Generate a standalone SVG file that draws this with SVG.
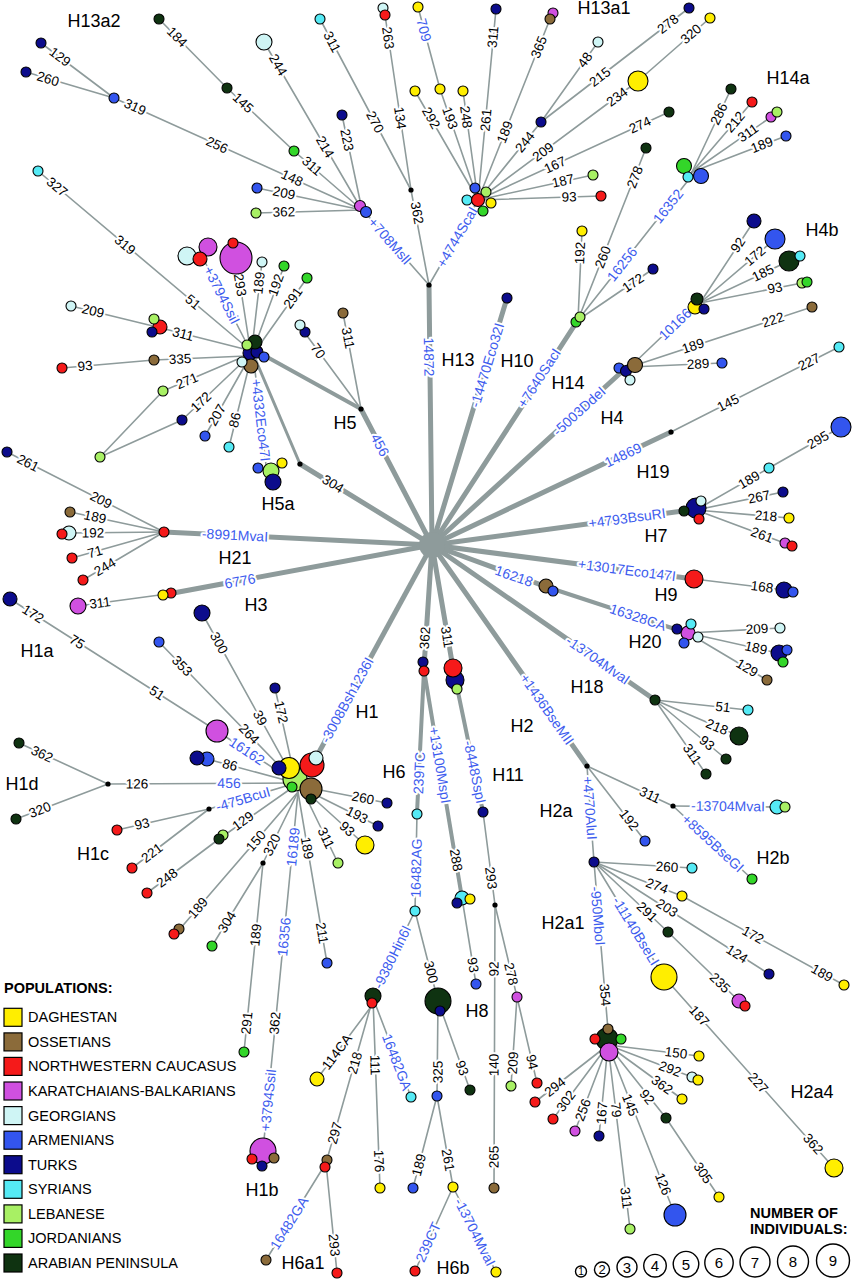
<svg xmlns="http://www.w3.org/2000/svg" width="853" height="1280" viewBox="0 0 853 1280">
<style>
circle{stroke:#000;stroke-width:1.1}
.hub{fill:#8e9b9b;stroke:none}
.dot{fill:#000;stroke:none}
.dg{fill:#ffee00}.os{fill:#8b6b3a}.nw{fill:#f51a1a}.kb{fill:#d050e0}.ge{fill:#cff5f5}.ar{fill:#3355ee}.tu{fill:#0c0c8c}.sy{fill:#55eaf5}.le{fill:#a8f064}.jo{fill:#33d629}.ap{fill:#0f3311}
.lb{stroke:#000;stroke-width:1.2}
text{font-family:"Liberation Sans",Arial,sans-serif}
.n,.b{text-anchor:middle;dominant-baseline:central;paint-order:stroke;stroke:#fff;stroke-width:4px;stroke-linejoin:round}
.n{font-size:13.5px;fill:#000}
.b{font-size:14px;fill:#3d5cee}
.h{font-size:18px;fill:#000;text-anchor:middle}
.lg{font-size:14.5px;fill:#000}
.lgb{font-size:14.5px;font-weight:bold;fill:#000}
.sz{fill:#fff;stroke:#000;stroke-width:1.4}
.szt{text-anchor:middle;dominant-baseline:central;fill:#000}
</style>
<rect width="853" height="1280" fill="#fff"/>
<g id="connectors" stroke="#8e9b9b" stroke-linecap="round" fill="none">
<g stroke-width="5">
<line x1="432" y1="545" x2="429" y2="285"/>
<line x1="432" y1="545" x2="507" y2="298"/>
<line x1="432" y1="545" x2="578" y2="320"/>
<line x1="432" y1="545" x2="627" y2="367"/>
<line x1="432" y1="545" x2="671" y2="432"/>
<line x1="432" y1="545" x2="690" y2="510"/>
<line x1="432" y1="545" x2="694" y2="579"/>
<line x1="432" y1="545" x2="547" y2="587"/>
<line x1="432" y1="545" x2="655" y2="700"/>
<line x1="432" y1="545" x2="587" y2="766"/>
<line x1="432" y1="545" x2="453" y2="668"/>
<line x1="432" y1="545" x2="424" y2="667"/>
<line x1="432" y1="545" x2="312" y2="765"/>
<line x1="432" y1="545" x2="168" y2="594"/>
<line x1="432" y1="545" x2="164" y2="532"/>
<line x1="432" y1="545" x2="300" y2="464"/>
<line x1="432" y1="545" x2="361" y2="409"/>
</g>
<g stroke-width="4">
<line x1="547" y1="587" x2="687" y2="633"/>
<line x1="453" y1="668" x2="483" y2="812"/>
<line x1="424" y1="670" x2="417" y2="813"/>
<line x1="424" y1="670" x2="462" y2="898"/>
<line x1="361" y1="409" x2="258" y2="352"/>
</g>
<g stroke-width="3"><line x1="300" y1="464" x2="254" y2="356"/></g>
<g stroke-width="1.6">
<line x1="429" y1="285" x2="411" y2="190"/>
<line x1="411" y1="190" x2="385" y2="15"/>
<line x1="411" y1="190" x2="320" y2="19"/>
<line x1="429" y1="285" x2="362" y2="209"/>
<line x1="429" y1="285" x2="477" y2="202"/>
<line x1="362" y1="210" x2="342" y2="115"/>
<line x1="362" y1="210" x2="264" y2="42"/>
<line x1="362" y1="210" x2="294" y2="151"/>
<line x1="294" y1="151" x2="227" y2="88"/>
<line x1="227" y1="88" x2="159" y2="19"/>
<line x1="362" y1="210" x2="114" y2="98"/>
<line x1="114" y1="98" x2="41" y2="43"/>
<line x1="114" y1="98" x2="26" y2="72"/>
<line x1="362" y1="210" x2="257" y2="188"/>
<line x1="362" y1="210" x2="256" y2="213"/>
<line x1="478" y1="200" x2="415" y2="91"/>
<line x1="478" y1="200" x2="440" y2="89"/>
<line x1="440" y1="89" x2="418" y2="7"/>
<line x1="478" y1="200" x2="463" y2="91"/>
<line x1="478" y1="200" x2="496" y2="9"/>
<line x1="478" y1="200" x2="550" y2="19"/>
<line x1="478" y1="200" x2="541" y2="122"/>
<line x1="541" y1="122" x2="598" y2="42"/>
<line x1="541" y1="122" x2="689" y2="8"/>
<line x1="478" y1="200" x2="638" y2="81"/>
<line x1="638" y1="81" x2="710" y2="18"/>
<line x1="478" y1="200" x2="669" y2="112"/>
<line x1="478" y1="200" x2="593" y2="175"/>
<line x1="478" y1="200" x2="601" y2="196"/>
<line x1="578" y1="320" x2="582" y2="231"/>
<line x1="578" y1="320" x2="646" y2="148"/>
<line x1="578" y1="320" x2="690" y2="178"/>
<line x1="578" y1="320" x2="653" y2="269"/>
<line x1="692" y1="172" x2="731" y2="89"/>
<line x1="692" y1="172" x2="752" y2="102"/>
<line x1="692" y1="172" x2="771" y2="117"/>
<line x1="692" y1="172" x2="786" y2="136"/>
<line x1="630" y1="367" x2="697" y2="303"/>
<line x1="630" y1="367" x2="812" y2="307"/>
<line x1="630" y1="367" x2="722" y2="363"/>
<line x1="700" y1="303" x2="754" y2="221"/>
<line x1="700" y1="303" x2="775" y2="239"/>
<line x1="700" y1="303" x2="789" y2="261"/>
<line x1="700" y1="303" x2="802" y2="283"/>
<line x1="671" y1="432" x2="839" y2="347"/>
<line x1="696" y1="510" x2="769" y2="468"/>
<line x1="769" y1="468" x2="841" y2="427"/>
<line x1="696" y1="510" x2="783" y2="492"/>
<line x1="696" y1="510" x2="789" y2="518"/>
<line x1="696" y1="510" x2="787" y2="544"/>
<line x1="694" y1="579" x2="785" y2="590"/>
<line x1="688" y1="633" x2="780" y2="628"/>
<line x1="688" y1="633" x2="782" y2="654"/>
<line x1="688" y1="633" x2="767" y2="680"/>
<line x1="655" y1="700" x2="748" y2="710"/>
<line x1="655" y1="700" x2="739" y2="736"/>
<line x1="655" y1="700" x2="726" y2="759"/>
<line x1="655" y1="700" x2="706" y2="774"/>
<line x1="587" y1="766" x2="594" y2="862"/>
<line x1="587" y1="766" x2="645" y2="841"/>
<line x1="587" y1="766" x2="673" y2="806"/>
<line x1="673" y1="806" x2="777" y2="807"/>
<line x1="673" y1="806" x2="752" y2="879"/>
<line x1="594" y1="862" x2="692" y2="868"/>
<line x1="594" y1="862" x2="682" y2="896"/>
<line x1="682" y1="896" x2="844" y2="985"/>
<line x1="594" y1="862" x2="769" y2="974"/>
<line x1="594" y1="862" x2="668" y2="932"/>
<line x1="668" y1="932" x2="740" y2="1002"/>
<line x1="594" y1="862" x2="664" y2="977"/>
<line x1="664" y1="977" x2="834" y2="1168"/>
<line x1="594" y1="862" x2="608" y2="1030"/>
<line x1="608" y1="1045" x2="699" y2="1056"/>
<line x1="608" y1="1045" x2="692" y2="1077"/>
<line x1="608" y1="1045" x2="682" y2="1099"/>
<line x1="608" y1="1045" x2="666" y2="1118"/>
<line x1="666" y1="1118" x2="719" y2="1197"/>
<line x1="608" y1="1045" x2="675" y2="1215"/>
<line x1="608" y1="1045" x2="630" y2="1229"/>
<line x1="608" y1="1045" x2="599" y2="1136"/>
<line x1="608" y1="1045" x2="575" y2="1131"/>
<line x1="608" y1="1045" x2="553" y2="1119"/>
<line x1="608" y1="1045" x2="535" y2="1102"/>
<line x1="483" y1="812" x2="495" y2="905"/>
<line x1="495" y1="905" x2="494" y2="1188"/>
<line x1="495" y1="905" x2="517" y2="997"/>
<line x1="517" y1="997" x2="511" y2="1086"/>
<line x1="517" y1="997" x2="537" y2="1083"/>
<line x1="462" y1="898" x2="476" y2="984"/>
<line x1="417" y1="813" x2="415" y2="911"/>
<line x1="415" y1="911" x2="373" y2="997"/>
<line x1="415" y1="911" x2="438" y2="1001"/>
<line x1="438" y1="1001" x2="470" y2="1090"/>
<line x1="438" y1="1001" x2="437" y2="1096"/>
<line x1="437" y1="1096" x2="413" y2="1188"/>
<line x1="437" y1="1096" x2="453" y2="1187"/>
<line x1="453" y1="1187" x2="415" y2="1271"/>
<line x1="453" y1="1187" x2="496" y2="1272"/>
<line x1="376" y1="1000" x2="317" y2="1079"/>
<line x1="373" y1="998" x2="326" y2="1163"/>
<line x1="326" y1="1163" x2="266" y2="1260"/>
<line x1="326" y1="1163" x2="337" y2="1273"/>
<line x1="373" y1="998" x2="380" y2="1188"/>
<line x1="373" y1="998" x2="411" y2="1097"/>
<line x1="296" y1="783" x2="275" y2="688"/>
<line x1="296" y1="783" x2="202" y2="613"/>
<line x1="296" y1="783" x2="159" y2="642"/>
<line x1="296" y1="783" x2="217" y2="731"/>
<line x1="217" y1="731" x2="10" y2="599"/>
<line x1="296" y1="783" x2="207" y2="759"/>
<line x1="296" y1="783" x2="108" y2="784"/>
<line x1="108" y1="784" x2="19" y2="743"/>
<line x1="108" y1="784" x2="16" y2="819"/>
<line x1="296" y1="783" x2="209" y2="809"/>
<line x1="209" y1="809" x2="117" y2="830"/>
<line x1="209" y1="809" x2="132" y2="868"/>
<line x1="296" y1="785" x2="219" y2="839"/>
<line x1="219" y1="839" x2="147" y2="893"/>
<line x1="298" y1="792" x2="179" y2="930"/>
<line x1="298" y1="792" x2="263" y2="863"/>
<line x1="263" y1="863" x2="212" y2="946"/>
<line x1="263" y1="863" x2="244" y2="1052"/>
<line x1="298" y1="792" x2="264" y2="1140"/>
<line x1="298" y1="792" x2="327" y2="963"/>
<line x1="305" y1="795" x2="338" y2="863"/>
<line x1="310" y1="795" x2="365" y2="845"/>
<line x1="310" y1="792" x2="378" y2="826"/>
<line x1="310" y1="788" x2="387" y2="803"/>
<line x1="164" y1="532" x2="7" y2="452"/>
<line x1="164" y1="532" x2="70" y2="512"/>
<line x1="164" y1="532" x2="69" y2="533"/>
<line x1="164" y1="532" x2="72" y2="558"/>
<line x1="164" y1="532" x2="83" y2="580"/>
<line x1="167" y1="594" x2="78" y2="606"/>
<line x1="361" y1="409" x2="302" y2="329"/>
<line x1="361" y1="409" x2="343" y2="313"/>
<line x1="250" y1="350" x2="205" y2="262"/>
<line x1="250" y1="348" x2="236" y2="258"/>
<line x1="252" y1="348" x2="262" y2="262"/>
<line x1="254" y1="348" x2="284" y2="266"/>
<line x1="256" y1="350" x2="307" y2="278"/>
<line x1="250" y1="350" x2="38" y2="171"/>
<line x1="248" y1="350" x2="157" y2="327"/>
<line x1="157" y1="327" x2="71" y2="306"/>
<line x1="246" y1="356" x2="154" y2="360"/>
<line x1="154" y1="360" x2="62" y2="368"/>
<line x1="245" y1="356" x2="163" y2="391"/>
<line x1="247" y1="358" x2="182" y2="420"/>
<line x1="163" y1="391" x2="100" y2="457"/>
<line x1="182" y1="420" x2="100" y2="457"/>
<line x1="248" y1="360" x2="205" y2="436"/>
<line x1="250" y1="362" x2="229" y2="447"/>
<line x1="254" y1="362" x2="266" y2="465"/>
</g>
</g>
<g id="edge-labels">
<text class="b" transform="translate(429 357) rotate(89)">14872</text>
<text class="b" transform="translate(487 365) rotate(-73.1)">-14470Eco32I</text>
<text class="b" transform="translate(539 378) rotate(-57.3)">+7640SacI</text>
<text class="b" transform="translate(579 411) rotate(-42.4)">-5003DdeI</text>
<text class="b" transform="translate(623 455) rotate(-25.3)">14869</text>
<text class="b" transform="translate(627 518) rotate(-7.7)">+4793BsuRI</text>
<text class="b" transform="translate(627 570) rotate(7.4)">+13017Eco147I</text>
<text class="b" transform="translate(514 576) rotate(19.2)">16218</text>
<text class="b" transform="translate(638 617) rotate(18.2)">16328CA</text>
<text class="b" transform="translate(598 660) rotate(34.8)">-13704MvaI</text>
<text class="b" transform="translate(547 709) rotate(55)">+1436BseMII</text>
<text class="n" transform="translate(447 637) rotate(80.3)">311</text>
<text class="b" transform="translate(475 772) rotate(78.2)">-8448SspI</text>
<text class="n" transform="translate(425 638) rotate(-86.3)">362</text>
<text class="b" transform="translate(419 773) rotate(-87.2)">239TC</text>
<text class="b" transform="translate(440 765) rotate(80.5)">+13100MspI</text>
<text class="n" transform="translate(456 860) rotate(80.5)">288</text>
<text class="b" transform="translate(347 700) rotate(-61.3)">-3008Bsh1236I</text>
<text class="b" transform="translate(240 581) rotate(-10.5)">6776</text>
<text class="b" transform="translate(235 535) rotate(2.8)">-8991MvaI</text>
<text class="n" transform="translate(333 484) rotate(31.5)">304</text>
<text class="b" transform="translate(380 445) rotate(62.4)">456</text>
<text class="n" transform="translate(417 213) rotate(79.3)">362</text>
<text class="n" transform="translate(400 118) rotate(81.5)">134</text>
<text class="n" transform="translate(388 38) rotate(81.5)">263</text>
<text class="n" transform="translate(375 122) rotate(62)">270</text>
<text class="n" transform="translate(332 42) rotate(62)">311</text>
<text class="b" transform="translate(390 241) rotate(48.6)">+708MslI</text>
<text class="b" transform="translate(457 237) rotate(-60)">+4744ScaI</text>
<text class="n" transform="translate(347 140) rotate(78.1)">223</text>
<text class="n" transform="translate(325 147) rotate(59.7)">214</text>
<text class="n" transform="translate(278 65) rotate(59.7)">244</text>
<text class="n" transform="translate(312 166) rotate(41)">311</text>
<text class="n" transform="translate(243 103) rotate(43.2)">145</text>
<text class="n" transform="translate(177 37) rotate(45.4)">184</text>
<text class="n" transform="translate(292 178) rotate(24.3)">148</text>
<text class="n" transform="translate(217 145) rotate(24.3)">256</text>
<text class="n" transform="translate(135 107) rotate(24.3)">319</text>
<text class="n" transform="translate(60 57) rotate(37)">129</text>
<text class="n" transform="translate(48 79) rotate(16.5)">260</text>
<text class="n" transform="translate(284 193) rotate(11.8)">209</text>
<text class="n" transform="translate(284 212) rotate(-1.6)">362</text>
<text class="n" transform="translate(431 118) rotate(60)">292</text>
<text class="n" transform="translate(450 118) rotate(71.1)">193</text>
<text class="b" transform="translate(424 30) rotate(75)">709</text>
<text class="n" transform="translate(466 117) rotate(82.2)">248</text>
<text class="n" transform="translate(486 120) rotate(-84.6)">261</text>
<text class="n" transform="translate(493 37) rotate(-84.6)">311</text>
<text class="n" transform="translate(505 132) rotate(-68.3)">189</text>
<text class="n" transform="translate(539 47) rotate(-68.3)">365</text>
<text class="n" transform="translate(525 142) rotate(-51.1)">244</text>
<text class="n" transform="translate(585 60) rotate(-54.5)">48</text>
<text class="n" transform="translate(600 77) rotate(-37.6)">215</text>
<text class="n" transform="translate(668 24) rotate(-37.6)">278</text>
<text class="n" transform="translate(543 152) rotate(-36.6)">209</text>
<text class="n" transform="translate(617 97) rotate(-36.6)">234</text>
<text class="n" transform="translate(691 34) rotate(-41.2)">320</text>
<text class="n" transform="translate(555 165) rotate(-24.7)">167</text>
<text class="n" transform="translate(640 125) rotate(-24.7)">274</text>
<text class="n" transform="translate(563 181) rotate(-12.3)">187</text>
<text class="n" transform="translate(569 197) rotate(-1.9)">93</text>
<text class="n" transform="translate(580 253) rotate(-87.4)">192</text>
<text class="n" transform="translate(603 257) rotate(-68.4)">260</text>
<text class="n" transform="translate(635 177) rotate(-68.4)">278</text>
<text class="b" transform="translate(622 264) rotate(-51.7)">16256</text>
<text class="b" transform="translate(668 206) rotate(-51.7)">16352</text>
<text class="n" transform="translate(633 283) rotate(-34.2)">172</text>
<text class="n" transform="translate(719 114) rotate(-64.8)">286</text>
<text class="n" transform="translate(735 122) rotate(-49.4)">212</text>
<text class="n" transform="translate(748 133) rotate(-34.8)">311</text>
<text class="n" transform="translate(762 145) rotate(-21)">189</text>
<text class="b" transform="translate(675 324) rotate(-43.7)">10166</text>
<text class="n" transform="translate(738 245) rotate(-56.6)">92</text>
<text class="n" transform="translate(755 256) rotate(-40.5)">172</text>
<text class="n" transform="translate(763 273) rotate(-25.3)">185</text>
<text class="n" transform="translate(775 288) rotate(-11.1)">93</text>
<text class="n" transform="translate(693 346) rotate(-18.2)">189</text>
<text class="n" transform="translate(773 320) rotate(-18.2)">222</text>
<text class="n" transform="translate(698 364) rotate(-2.5)">289</text>
<text class="n" transform="translate(728 403) rotate(-26.8)">145</text>
<text class="n" transform="translate(809 362) rotate(-26.8)">227</text>
<text class="n" transform="translate(749 480) rotate(-29.9)">189</text>
<text class="n" transform="translate(818 440) rotate(-29.7)">295</text>
<text class="n" transform="translate(759 497) rotate(-11.7)">267</text>
<text class="n" transform="translate(766 516) rotate(4.9)">218</text>
<text class="n" transform="translate(762 535) rotate(20.5)">261</text>
<text class="n" transform="translate(762 587) rotate(6.9)">168</text>
<text class="n" transform="translate(757 629) rotate(-3.1)">209</text>
<text class="n" transform="translate(756 648) rotate(12.6)">189</text>
<text class="n" transform="translate(747 668) rotate(30.8)">129</text>
<text class="n" transform="translate(723 707) rotate(6.1)">51</text>
<text class="n" transform="translate(717 727) rotate(23.2)">218</text>
<text class="n" transform="translate(707 743) rotate(39.7)">93</text>
<text class="n" transform="translate(692 754) rotate(55.4)">311</text>
<text class="b" transform="translate(590 808) rotate(85.8)">+4770AluI</text>
<text class="n" transform="translate(629 820) rotate(52.3)">192</text>
<text class="n" transform="translate(650 795) rotate(24.9)">311</text>
<text class="b" transform="translate(728 806) rotate(0.6)">-13704MvaI</text>
<text class="b" transform="translate(713 843) rotate(42.7)">+8595BseGI</text>
<text class="n" transform="translate(667 867) rotate(3.5)">260</text>
<text class="n" transform="translate(657 886) rotate(21.1)">274</text>
<text class="n" transform="translate(753 935) rotate(28.8)">172</text>
<text class="n" transform="translate(822 973) rotate(28.8)">189</text>
<text class="n" transform="translate(667 908) rotate(32.6)">203</text>
<text class="n" transform="translate(737 954) rotate(32.6)">124</text>
<text class="n" transform="translate(647 912) rotate(43.4)">291</text>
<text class="n" transform="translate(720 983) rotate(44.2)">235</text>
<text class="b" transform="translate(636 931) rotate(58.7)">-11140BseLI</text>
<text class="n" transform="translate(699 1016) rotate(48.3)">187</text>
<text class="n" transform="translate(758 1083) rotate(48.3)">227</text>
<text class="n" transform="translate(813 1144) rotate(48.3)">362</text>
<text class="b" transform="translate(598 916) rotate(85.2)">-950MboI</text>
<text class="n" transform="translate(605 995) rotate(85.2)">354</text>
<text class="n" transform="translate(676 1053) rotate(6.9)">150</text>
<text class="n" transform="translate(670 1069) rotate(20.9)">292</text>
<text class="n" transform="translate(662 1085) rotate(36.1)">362</text>
<text class="n" transform="translate(647 1097) rotate(51.5)">92</text>
<text class="n" transform="translate(703 1173) rotate(56.1)">305</text>
<text class="n" transform="translate(630 1105) rotate(68.5)">145</text>
<text class="n" transform="translate(663 1184) rotate(68.5)">126</text>
<text class="n" transform="translate(616 1110) rotate(83.2)">79</text>
<text class="n" transform="translate(626 1198) rotate(83.2)">311</text>
<text class="n" transform="translate(602 1113) rotate(-84.4)">167</text>
<text class="n" transform="translate(583 1110) rotate(-69)">256</text>
<text class="n" transform="translate(566 1101) rotate(-53.4)">302</text>
<text class="n" transform="translate(555 1087) rotate(-38)">294</text>
<text class="n" transform="translate(491 878) rotate(82.6)">293</text>
<text class="n" transform="translate(494 969) rotate(-89.8)">92</text>
<text class="n" transform="translate(494 1065) rotate(-89.8)">140</text>
<text class="n" transform="translate(494 1157) rotate(-89.8)">265</text>
<text class="n" transform="translate(511 974) rotate(76.6)">278</text>
<text class="n" transform="translate(513 1063) rotate(-86.1)">209</text>
<text class="n" transform="translate(532 1062) rotate(76.9)">94</text>
<text class="n" transform="translate(473 965) rotate(80.8)">93</text>
<text class="b" transform="translate(416 868) rotate(-88.8)">16482AG</text>
<text class="b" transform="translate(392 957) rotate(-64)">-9380Hin6I</text>
<text class="n" transform="translate(431 972) rotate(75.7)">300</text>
<text class="n" transform="translate(462 1068) rotate(70.2)">93</text>
<text class="n" transform="translate(438 1072) rotate(-89.4)">325</text>
<text class="n" transform="translate(419 1165) rotate(-75.4)">189</text>
<text class="n" transform="translate(448 1160) rotate(80)">261</text>
<text class="b" transform="translate(428 1242) rotate(-65.7)">239CT</text>
<text class="b" transform="translate(475 1232) rotate(63.2)">-13704MvaI</text>
<text class="n" transform="translate(337 1052) rotate(-53.2)">114CA</text>
<text class="n" transform="translate(355 1063) rotate(-74.1)">218</text>
<text class="n" transform="translate(335 1133) rotate(-74.1)">297</text>
<text class="b" transform="translate(289 1223) rotate(-58.3)">16482GA</text>
<text class="n" transform="translate(334 1245) rotate(84.3)">293</text>
<text class="n" transform="translate(375 1065) rotate(87.9)">111</text>
<text class="n" transform="translate(379 1161) rotate(87.9)">176</text>
<text class="b" transform="translate(397 1062) rotate(69)">16482GA</text>
<text class="n" transform="translate(281 712) rotate(77.5)">172</text>
<text class="n" transform="translate(260 718) rotate(61.1)">39</text>
<text class="n" transform="translate(219 643) rotate(61.1)">300</text>
<text class="n" transform="translate(249 734) rotate(45.8)">264</text>
<text class="n" transform="translate(182 666) rotate(45.8)">353</text>
<text class="b" transform="translate(247 751) rotate(33.4)">16162</text>
<text class="n" transform="translate(157 693) rotate(32.5)">51</text>
<text class="n" transform="translate(77 642) rotate(32.5)">75</text>
<text class="n" transform="translate(33 614) rotate(32.5)">172</text>
<text class="n" transform="translate(230 765) rotate(15.1)">86</text>
<text class="b" transform="translate(229 783) rotate(-0.3)">456</text>
<text class="n" transform="translate(137 784) rotate(-0.3)">126</text>
<text class="n" transform="translate(42 754) rotate(24.7)">362</text>
<text class="n" transform="translate(40 810) rotate(-20.8)">320</text>
<text class="b" transform="translate(243 799) rotate(-16.6)">-475BcuI</text>
<text class="n" transform="translate(142 824) rotate(-12.9)">93</text>
<text class="n" transform="translate(152 853) rotate(-37.5)">221</text>
<text class="n" transform="translate(243 821) rotate(-36)">129</text>
<text class="n" transform="translate(167 878) rotate(-36.9)">248</text>
<text class="n" transform="translate(256 841) rotate(-49.2)">150</text>
<text class="n" transform="translate(198 908) rotate(-49.2)">189</text>
<text class="n" transform="translate(272 845) rotate(-63.8)">320</text>
<text class="n" transform="translate(227 922) rotate(-58.4)">304</text>
<text class="n" transform="translate(256 935) rotate(-84.3)">189</text>
<text class="n" transform="translate(247 1023) rotate(-84.3)">291</text>
<text class="b" transform="translate(293 847) rotate(-84.4)">16189</text>
<text class="b" transform="translate(284 937) rotate(-84.4)">16356</text>
<text class="n" transform="translate(275 1023) rotate(-84.4)">362</text>
<text class="b" transform="translate(268 1100) rotate(-84.4)">+3794SsiI</text>
<text class="n" transform="translate(307 848) rotate(80.4)">189</text>
<text class="n" transform="translate(322 933) rotate(80.4)">211</text>
<text class="n" transform="translate(326 838) rotate(64.1)">311</text>
<text class="n" transform="translate(347 829) rotate(42.3)">93</text>
<text class="n" transform="translate(357 815) rotate(26.6)">193</text>
<text class="n" transform="translate(363 798) rotate(11)">260</text>
<text class="n" transform="translate(101 500) rotate(27)">209</text>
<text class="n" transform="translate(28 463) rotate(27)">261</text>
<text class="n" transform="translate(95 517) rotate(12)">189</text>
<text class="n" transform="translate(93 533) rotate(-0.6)">192</text>
<text class="n" transform="translate(95 552) rotate(-15.8)">71</text>
<text class="n" transform="translate(105 567) rotate(-30.6)">244</text>
<text class="n" transform="translate(100 603) rotate(-7.4)">311</text>
<text class="n" transform="translate(318 351) rotate(53.6)">70</text>
<text class="n" transform="translate(348 338) rotate(79.4)">311</text>
<text class="b" transform="translate(222 295) rotate(63)">+3794SsiI</text>
<text class="n" transform="translate(240 285) rotate(81.2)">293</text>
<text class="n" transform="translate(259 283) rotate(-83.4)">189</text>
<text class="n" transform="translate(276 285) rotate(-70)">192</text>
<text class="n" transform="translate(293 298) rotate(-54.7)">291</text>
<text class="n" transform="translate(193 302) rotate(40.2)">51</text>
<text class="n" transform="translate(125 245) rotate(40.2)">319</text>
<text class="n" transform="translate(57 187) rotate(40.2)">327</text>
<text class="n" transform="translate(183 334) rotate(14.2)">311</text>
<text class="n" transform="translate(93 311) rotate(13.7)">209</text>
<text class="n" transform="translate(180 359) rotate(-2.5)">335</text>
<text class="n" transform="translate(85 366) rotate(-5)">93</text>
<text class="n" transform="translate(187 381) rotate(-23.1)">271</text>
<text class="n" transform="translate(201 402) rotate(-43.6)">172</text>
<text class="n" transform="translate(217 415) rotate(-60.5)">207</text>
<text class="n" transform="translate(235 420) rotate(-76.1)">86</text>
<text class="b" transform="translate(261 420) rotate(83.4)">+4332Eco47I</text>
</g>
<g id="nodes">
<g id="n-hub"><circle class="hub" cx="432" cy="545" r="13"/></g>
<g id="j-h13"><circle class="dot" cx="429" cy="285" r="2.6"/></g>
<g id="j-h13-362"><circle class="dot" cx="411" cy="190" r="2.6"/></g>
<g id="j-h19"><circle class="dot" cx="671" cy="432" r="2.6"/></g>
<g id="j-h2"><circle class="dot" cx="587" cy="766" r="2.6"/></g>
<g id="j-h2b"><circle class="dot" cx="673" cy="806" r="2.6"/></g>
<g id="j-h11"><circle class="dot" cx="495" cy="905" r="2.6"/></g>
<g id="j-h5-304"><circle class="dot" cx="300" cy="464" r="2.6"/></g>
<g id="j-h5"><circle class="dot" cx="361" cy="409" r="2.6"/></g>
<g id="j-h1d"><circle class="dot" cx="108" cy="784" r="2.6"/></g>
<g id="j-h1c"><circle class="dot" cx="209" cy="809" r="2.6"/></g>
<g id="j-h1-320"><circle class="dot" cx="263" cy="863" r="2.6"/></g>
<g id="n-h13a2-223"><circle class="tu" cx="342" cy="115" r="5"/></g>
<g id="n-h13a2-244"><circle class="ge" cx="264" cy="42" r="8"/></g>
<g id="n-h13a2-311"><circle class="jo" cx="294" cy="151" r="5"/></g>
<g id="n-h13a2-145"><circle class="ap" cx="227" cy="88" r="5"/></g>
<g id="n-h13a2-184"><circle class="ap" cx="159" cy="19" r="5"/></g>
<g id="n-h13a2-319"><circle class="ar" cx="114" cy="98" r="5"/></g>
<g id="n-h13a2-129"><circle class="tu" cx="41" cy="43" r="5"/></g>
<g id="n-h13a2-260"><circle class="tu" cx="26" cy="72" r="5"/></g>
<g id="n-h13a2-209"><circle class="ar" cx="257" cy="188" r="5"/></g>
<g id="n-h13a2-362"><circle class="le" cx="256" cy="213" r="5"/></g>
<g id="n-h13a2"><circle class="kb" cx="360" cy="206" r="5.5"/><circle class="ar" cx="366" cy="212" r="5.5"/></g>
<g id="n-h13-263"><circle class="ge" cx="383" cy="8" r="5"/><circle class="nw" cx="385" cy="15" r="5"/></g>
<g id="n-h13-311"><circle class="sy" cx="320" cy="19" r="5"/></g>
<g id="n-h13a1"><circle class="ar" cx="475" cy="188" r="5"/><circle class="le" cx="486" cy="192" r="5"/><circle class="sy" cx="467" cy="200" r="5"/><circle class="nw" cx="478" cy="200" r="6.5"/><circle class="jo" cx="483" cy="211" r="5"/><circle class="dg" cx="491" cy="203" r="5"/></g>
<g id="n-h13a1-292"><circle class="dg" cx="415" cy="91" r="5"/></g>
<g id="n-h13a1-193"><circle class="dg" cx="440" cy="89" r="5"/></g>
<g id="n-h13a1-709"><circle class="dg" cx="418" cy="7" r="5"/></g>
<g id="n-h13a1-248"><circle class="dg" cx="463" cy="91" r="5"/></g>
<g id="n-h13a1-311"><circle class="tu" cx="496" cy="9" r="5"/></g>
<g id="n-h13a1-365"><circle class="kb" cx="553" cy="13" r="5"/><circle class="os" cx="550" cy="19" r="5"/></g>
<g id="n-h13a1-244"><circle class="tu" cx="541" cy="122" r="5"/></g>
<g id="n-h13a1-48"><circle class="ge" cx="598" cy="42" r="5"/></g>
<g id="n-h13a1-278"><circle class="tu" cx="689" cy="8" r="5"/></g>
<g id="n-h13a1-234"><circle class="dg" cx="638" cy="81" r="10"/></g>
<g id="n-h13a1-320"><circle class="dg" cx="710" cy="18" r="5"/></g>
<g id="n-h13a1-274"><circle class="ap" cx="669" cy="112" r="5"/></g>
<g id="n-h13a1-187"><circle class="le" cx="593" cy="175" r="5"/></g>
<g id="n-h13a1-93"><circle class="nw" cx="601" cy="196" r="5"/></g>
<g id="n-h10"><circle class="tu" cx="507" cy="298" r="5"/></g>
<g id="n-h14"><circle class="jo" cx="576" cy="322" r="5"/><circle class="le" cx="580" cy="317" r="5"/></g>
<g id="n-h14-192"><circle class="dg" cx="582" cy="231" r="5"/></g>
<g id="n-h14-278"><circle class="ap" cx="646" cy="148" r="5"/></g>
<g id="n-h14-172"><circle class="tu" cx="653" cy="269" r="5"/></g>
<g id="n-h14a"><circle class="jo" cx="684" cy="166" r="7.5"/><circle class="sy" cx="688" cy="177" r="5"/><circle class="ar" cx="701" cy="176" r="7.5"/></g>
<g id="n-h14a-286"><circle class="ap" cx="731" cy="89" r="5"/></g>
<g id="n-h14a-212"><circle class="nw" cx="752" cy="102" r="5"/></g>
<g id="n-h14a-311"><circle class="kb" cx="771" cy="117" r="5"/><circle class="le" cx="777" cy="112" r="5"/></g>
<g id="n-h14a-189"><circle class="ar" cx="786" cy="136" r="5"/></g>
<g id="n-h4"><circle class="ar" cx="619" cy="368" r="5"/><circle class="tu" cx="626" cy="371" r="5.5"/><circle class="os" cx="635" cy="365" r="7.5"/><circle class="ge" cx="630" cy="380" r="5"/></g>
<g id="n-h4b"><circle class="dg" cx="695" cy="307" r="7"/><circle class="ap" cx="697" cy="299" r="6"/><circle class="tu" cx="704" cy="309" r="5"/></g>
<g id="n-h4b-92"><circle class="tu" cx="754" cy="221" r="7"/></g>
<g id="n-h4b-172"><circle class="ar" cx="775" cy="239" r="10"/></g>
<g id="n-h4b-185"><circle class="ap" cx="789" cy="261" r="10"/><circle class="sy" cx="800" cy="256" r="5"/></g>
<g id="n-h4b-93"><circle class="le" cx="802" cy="283" r="5"/><circle class="jo" cx="807" cy="282" r="5"/></g>
<g id="n-h4-222"><circle class="os" cx="812" cy="307" r="5"/></g>
<g id="n-h4-289"><circle class="ar" cx="722" cy="363" r="5"/></g>
<g id="n-h19-227"><circle class="sy" cx="839" cy="347" r="5"/></g>
<g id="n-h7"><circle class="tu" cx="696" cy="508" r="10"/><circle class="ap" cx="684" cy="511" r="5"/><circle class="ge" cx="701" cy="501" r="5"/><circle class="nw" cx="699" cy="519" r="5"/></g>
<g id="n-h7-189"><circle class="sy" cx="769" cy="468" r="5"/></g>
<g id="n-h7-295"><circle class="ar" cx="841" cy="427" r="10"/></g>
<g id="n-h7-267"><circle class="tu" cx="783" cy="492" r="5"/></g>
<g id="n-h7-218"><circle class="dg" cx="789" cy="518" r="5"/></g>
<g id="n-h7-261"><circle class="kb" cx="785" cy="543" r="5"/><circle class="nw" cx="792" cy="546" r="5"/></g>
<g id="n-h9"><circle class="nw" cx="694" cy="579" r="9"/></g>
<g id="n-h9-168"><circle class="tu" cx="784" cy="590" r="8"/><circle class="ar" cx="793" cy="592" r="5"/></g>
<g id="n-h20-16218"><circle class="os" cx="546" cy="586" r="7"/><circle class="ar" cx="553" cy="591" r="5"/></g>
<g id="n-h20"><circle class="kb" cx="688" cy="633" r="7"/><circle class="tu" cx="677" cy="629" r="5"/><circle class="sy" cx="691" cy="624" r="5"/><circle class="ge" cx="698" cy="637" r="5"/><circle class="ar" cx="684" cy="643" r="5"/></g>
<g id="n-h20-209"><circle class="ge" cx="780" cy="628" r="5"/></g>
<g id="n-h20-189"><circle class="tu" cx="779" cy="653" r="8"/><circle class="ar" cx="787" cy="650" r="5"/><circle class="jo" cx="783" cy="662" r="5"/></g>
<g id="n-h20-129"><circle class="os" cx="767" cy="680" r="5"/></g>
<g id="n-h18"><circle class="ap" cx="655" cy="700" r="5"/></g>
<g id="n-h18-51"><circle class="sy" cx="748" cy="710" r="5"/></g>
<g id="n-h18-218"><circle class="ap" cx="739" cy="736" r="9"/></g>
<g id="n-h18-93"><circle class="ap" cx="726" cy="759" r="5"/></g>
<g id="n-h18-311"><circle class="ap" cx="706" cy="774" r="5"/></g>
<g id="n-h2-192"><circle class="ar" cx="645" cy="841" r="5"/></g>
<g id="n-h2b-13704"><circle class="sy" cx="777" cy="807" r="7"/><circle class="le" cx="785" cy="807" r="5"/></g>
<g id="n-h2b"><circle class="jo" cx="752" cy="879" r="5"/></g>
<g id="n-h2a"><circle class="tu" cx="594" cy="862" r="5"/></g>
<g id="n-h2a-260"><circle class="sy" cx="692" cy="868" r="5"/></g>
<g id="n-h2a-274"><circle class="dg" cx="682" cy="896" r="5"/></g>
<g id="n-h2a-189"><circle class="dg" cx="844" cy="985" r="5"/></g>
<g id="n-h2a-124"><circle class="tu" cx="769" cy="974" r="5"/></g>
<g id="n-h2a-291"><circle class="ap" cx="668" cy="932" r="5"/></g>
<g id="n-h2a-235"><circle class="kb" cx="739" cy="1001" r="7"/><circle class="nw" cx="745" cy="1006" r="5"/></g>
<g id="n-h2a-11140"><circle class="dg" cx="664" cy="977" r="13"/></g>
<g id="n-h2a4"><circle class="dg" cx="834" cy="1168" r="9"/></g>
<g id="n-h2a1"><circle class="ap" cx="607" cy="1039" r="11"/><circle class="os" cx="608" cy="1029" r="5"/><circle class="nw" cx="595" cy="1039" r="5"/><circle class="jo" cx="621" cy="1039" r="5"/><circle class="kb" cx="609" cy="1052" r="9"/></g>
<g id="n-h2a1-150"><circle class="dg" cx="699" cy="1056" r="5"/></g>
<g id="n-h2a1-292"><circle class="ge" cx="692" cy="1077" r="5"/><circle class="dg" cx="698" cy="1080" r="5"/></g>
<g id="n-h2a1-362"><circle class="dg" cx="682" cy="1099" r="5"/></g>
<g id="n-h2a1-92"><circle class="ap" cx="666" cy="1118" r="5"/></g>
<g id="n-h2a1-305"><circle class="dg" cx="719" cy="1197" r="5"/></g>
<g id="n-h2a1-126"><circle class="ar" cx="675" cy="1215" r="11"/></g>
<g id="n-h2a1-311"><circle class="le" cx="630" cy="1229" r="5"/></g>
<g id="n-h2a1-167"><circle class="tu" cx="599" cy="1136" r="5"/></g>
<g id="n-h2a1-256"><circle class="kb" cx="575" cy="1131" r="5"/></g>
<g id="n-h2a1-302"><circle class="nw" cx="553" cy="1119" r="5"/></g>
<g id="n-h2a1-294"><circle class="nw" cx="535" cy="1102" r="5"/></g>
<g id="n-h11-311"><circle class="tu" cx="455" cy="680" r="9"/><circle class="nw" cx="453" cy="668" r="9"/><circle class="le" cx="457" cy="689" r="5"/></g>
<g id="n-h11"><circle class="tu" cx="483" cy="812" r="5"/></g>
<g id="n-h11-265"><circle class="os" cx="494" cy="1188" r="5"/></g>
<g id="n-h11-278"><circle class="kb" cx="517" cy="997" r="5"/></g>
<g id="n-h11-209"><circle class="le" cx="511" cy="1086" r="5"/></g>
<g id="n-h11-94"><circle class="nw" cx="537" cy="1083" r="5"/></g>
<g id="n-h6-362"><circle class="tu" cx="423" cy="662" r="5"/><circle class="nw" cx="424" cy="671" r="5"/></g>
<g id="n-h8-288"><circle class="sy" cx="462" cy="898" r="7"/><circle class="tu" cx="457" cy="903" r="5"/><circle class="dg" cx="470" cy="899" r="5"/></g>
<g id="n-h8-93"><circle class="ar" cx="476" cy="984" r="5"/></g>
<g id="n-h6"><circle class="sy" cx="417" cy="814" r="5"/></g>
<g id="n-h6-16482"><circle class="sy" cx="415" cy="911" r="5"/></g>
<g id="n-h6a1"><circle class="ap" cx="373" cy="996" r="8"/><circle class="nw" cx="372" cy="1003" r="5"/></g>
<g id="n-h6a1-114"><circle class="dg" cx="317" cy="1079" r="7"/></g>
<g id="n-h6a1-297"><circle class="os" cx="327" cy="1160" r="5"/><circle class="nw" cx="325" cy="1167" r="5"/></g>
<g id="n-h6a1-16482"><circle class="os" cx="266" cy="1260" r="5"/></g>
<g id="n-h6a1-293"><circle class="nw" cx="337" cy="1273" r="5"/></g>
<g id="n-h6a1-176"><circle class="dg" cx="380" cy="1188" r="5"/></g>
<g id="n-h6a1-16482b"><circle class="sy" cx="411" cy="1097" r="5"/></g>
<g id="n-h8"><circle class="ap" cx="438" cy="1001" r="13"/><circle class="tu" cx="440" cy="1011" r="5"/></g>
<g id="n-h8-93b"><circle class="ap" cx="470" cy="1090" r="5"/></g>
<g id="n-h6b-325"><circle class="ar" cx="437" cy="1096" r="5"/></g>
<g id="n-h6b-189"><circle class="ar" cx="413" cy="1188" r="5"/></g>
<g id="n-h6b-261"><circle class="dg" cx="453" cy="1187" r="5"/></g>
<g id="n-h6b-239"><circle class="nw" cx="415" cy="1271" r="5"/></g>
<g id="n-h6b-13704"><circle class="dg" cx="496" cy="1272" r="5"/></g>
<g id="n-h1"><circle class="le" cx="295" cy="779" r="12"/><circle class="dg" cx="289" cy="768" r="10.5"/><circle class="tu" cx="279" cy="768" r="7"/><circle class="nw" cx="312" cy="765" r="12"/><circle class="ge" cx="316" cy="758" r="7"/><circle class="os" cx="311" cy="789" r="11"/><circle class="ap" cx="311" cy="799" r="5"/><circle class="jo" cx="292" cy="787" r="5"/></g>
<g id="n-h1-172"><circle class="tu" cx="275" cy="688" r="5"/></g>
<g id="n-h1-300"><circle class="tu" cx="202" cy="613" r="8"/></g>
<g id="n-h1-353"><circle class="ar" cx="159" cy="642" r="5"/></g>
<g id="n-h1-16162"><circle class="kb" cx="217" cy="731" r="11"/></g>
<g id="n-h1a"><circle class="tu" cx="10" cy="599" r="7"/></g>
<g id="n-h1-86"><circle class="ar" cx="207" cy="759" r="7"/><circle class="tu" cx="197" cy="758" r="7"/></g>
<g id="n-h1d-362"><circle class="ap" cx="19" cy="743" r="5"/></g>
<g id="n-h1d-320"><circle class="ap" cx="16" cy="819" r="5"/></g>
<g id="n-h1c-93"><circle class="nw" cx="117" cy="830" r="5"/></g>
<g id="n-h1c-221"><circle class="nw" cx="132" cy="868" r="5"/></g>
<g id="n-h1-129"><circle class="le" cx="223" cy="835" r="5"/><circle class="ap" cx="219" cy="839" r="5"/></g>
<g id="n-h1-248"><circle class="nw" cx="147" cy="893" r="5"/></g>
<g id="n-h1-189a"><circle class="os" cx="179" cy="929" r="5"/><circle class="nw" cx="174" cy="934" r="5"/></g>
<g id="n-h1-304"><circle class="jo" cx="212" cy="946" r="5"/></g>
<g id="n-h1-291"><circle class="jo" cx="244" cy="1052" r="5"/></g>
<g id="n-h1-211"><circle class="ar" cx="327" cy="963" r="5"/></g>
<g id="n-h1-311"><circle class="le" cx="338" cy="863" r="5"/></g>
<g id="n-h1-93"><circle class="dg" cx="365" cy="845" r="9"/></g>
<g id="n-h1-193"><circle class="tu" cx="378" cy="826" r="5"/></g>
<g id="n-h1-260"><circle class="tu" cx="387" cy="803" r="5"/></g>
<g id="n-h1b"><circle class="kb" cx="263" cy="1151" r="13"/><circle class="nw" cx="252" cy="1159" r="5"/><circle class="os" cx="274" cy="1158" r="5"/><circle class="tu" cx="262" cy="1166" r="5"/></g>
<g id="n-h21"><circle class="nw" cx="164" cy="532" r="5"/></g>
<g id="n-h21-261"><circle class="tu" cx="7" cy="452" r="5"/></g>
<g id="n-h21-189"><circle class="os" cx="70" cy="512" r="5"/></g>
<g id="n-h21-192"><circle class="ge" cx="69" cy="533" r="7"/><circle class="nw" cx="62" cy="534" r="5"/></g>
<g id="n-h21-71"><circle class="nw" cx="72" cy="558" r="5"/></g>
<g id="n-h21-244"><circle class="nw" cx="83" cy="580" r="5"/></g>
<g id="n-h3"><circle class="nw" cx="171" cy="593" r="5"/><circle class="dg" cx="163" cy="595" r="5"/></g>
<g id="n-h3-311"><circle class="kb" cx="78" cy="606" r="8"/></g>
<g id="n-h5"><circle class="tu" cx="250" cy="353" r="7"/><circle class="tu" cx="257" cy="352" r="6"/><circle class="ap" cx="255" cy="342" r="7"/><circle class="le" cx="247" cy="345" r="5"/><circle class="ar" cx="264" cy="357" r="5"/><circle class="os" cx="251" cy="366" r="7"/><circle class="ge" cx="242" cy="362" r="5"/></g>
<g id="n-h5-3794"><circle class="kb" cx="208" cy="247" r="9"/><circle class="ge" cx="187" cy="256" r="9"/><circle class="nw" cx="200" cy="259" r="7"/></g>
<g id="n-h5-293"><circle class="kb" cx="236" cy="258" r="16"/><circle class="nw" cx="233" cy="243" r="5"/></g>
<g id="n-h5-189"><circle class="ge" cx="262" cy="262" r="5"/></g>
<g id="n-h5-192"><circle class="jo" cx="284" cy="266" r="5"/></g>
<g id="n-h5-291"><circle class="jo" cx="307" cy="278" r="5"/></g>
<g id="n-h5-327"><circle class="sy" cx="38" cy="171" r="5"/></g>
<g id="n-h5-311"><circle class="nw" cx="160" cy="327" r="7"/><circle class="le" cx="154" cy="319" r="5"/><circle class="tu" cx="152" cy="332" r="5"/></g>
<g id="n-h5-209"><circle class="ge" cx="71" cy="306" r="5"/></g>
<g id="n-h5-335"><circle class="os" cx="154" cy="360" r="5"/></g>
<g id="n-h5-93"><circle class="nw" cx="62" cy="368" r="5"/></g>
<g id="n-h5-271"><circle class="le" cx="163" cy="391" r="5"/></g>
<g id="n-h5-172"><circle class="tu" cx="182" cy="420" r="5"/></g>
<g id="n-h5-x"><circle class="le" cx="100" cy="457" r="5"/></g>
<g id="n-h5-207"><circle class="ar" cx="205" cy="436" r="5"/></g>
<g id="n-h5-86"><circle class="sy" cx="229" cy="447" r="5"/></g>
<g id="n-h5a"><circle class="ar" cx="258" cy="468" r="5"/><circle class="le" cx="271" cy="471" r="8"/><circle class="dg" cx="282" cy="463" r="5"/><circle class="tu" cx="273" cy="482" r="8"/></g>
<g id="n-h5-70"><circle class="tu" cx="305" cy="332" r="5"/><circle class="ge" cx="300" cy="325" r="5"/></g>
<g id="n-h5-311b"><circle class="os" cx="343" cy="313" r="5"/></g>
</g>
<g id="hap-labels" class="h">
<text class="h" x="94" y="27">H13a2</text>
<text class="h" x="604" y="14">H13a1</text>
<text class="h" x="788" y="84">H14a</text>
<text class="h" x="822" y="236">H4b</text>
<text class="h" x="458" y="366">H13</text>
<text class="h" x="517" y="367">H10</text>
<text class="h" x="568" y="389">H14</text>
<text class="h" x="612" y="424">H4</text>
<text class="h" x="653" y="478">H19</text>
<text class="h" x="656" y="542">H7</text>
<text class="h" x="666" y="601">H9</text>
<text class="h" x="645" y="648">H20</text>
<text class="h" x="587" y="693">H18</text>
<text class="h" x="522" y="732">H2</text>
<text class="h" x="508" y="781">H11</text>
<text class="h" x="394" y="778">H6</text>
<text class="h" x="556" y="817">H2a</text>
<text class="h" x="773" y="864">H2b</text>
<text class="h" x="563" y="929">H2a1</text>
<text class="h" x="812" y="1098">H2a4</text>
<text class="h" x="477" y="1017">H8</text>
<text class="h" x="367" y="718">H1</text>
<text class="h" x="37" y="657">H1a</text>
<text class="h" x="22" y="790">H1d</text>
<text class="h" x="93" y="860">H1c</text>
<text class="h" x="262" y="1196">H1b</text>
<text class="h" x="303" y="1269">H6a1</text>
<text class="h" x="453" y="1274">H6b</text>
<text class="h" x="256" y="611">H3</text>
<text class="h" x="235" y="564">H21</text>
<text class="h" x="345" y="429">H5</text>
<text class="h" x="278" y="510">H5a</text>
</g>
<g id="legend">
<text class="lgb" x="4" y="993">POPULATIONS:</text>
<rect class="dg lb" x="4" y="1008.3" width="18" height="18"/><text class="lg" x="28" y="1022.3">DAGHESTAN</text>
<rect class="os lb" x="4" y="1032.9" width="18" height="18"/><text class="lg" x="28" y="1046.9">OSSETIANS</text>
<rect class="nw lb" x="4" y="1057.4" width="18" height="18"/><text class="lg" x="28" y="1071.4">NORTHWESTERN CAUCASUS</text>
<rect class="kb lb" x="4" y="1082" width="18" height="18"/><text class="lg" x="28" y="1096">KARATCHAIANS-BALKARIANS</text>
<rect class="ge lb" x="4" y="1106.6" width="18" height="18"/><text class="lg" x="28" y="1120.6">GEORGIANS</text>
<rect class="ar lb" x="4" y="1131.2" width="18" height="18"/><text class="lg" x="28" y="1145.2">ARMENIANS</text>
<rect class="tu lb" x="4" y="1155.7" width="18" height="18"/><text class="lg" x="28" y="1169.7">TURKS</text>
<rect class="sy lb" x="4" y="1180.3" width="18" height="18"/><text class="lg" x="28" y="1194.3">SYRIANS</text>
<rect class="le lb" x="4" y="1204.9" width="18" height="18"/><text class="lg" x="28" y="1218.9">LEBANESE</text>
<rect class="jo lb" x="4" y="1229.4" width="18" height="18"/><text class="lg" x="28" y="1243.4">JORDANIANS</text>
<rect class="ap lb" x="4" y="1254" width="18" height="18"/><text class="lg" x="28" y="1268">ARABIAN PENINSULA</text>
</g>
<g id="size-legend">
<text class="lgb" x="750" y="1218">NUMBER OF</text>
<text class="lgb" x="750" y="1234">INDIVIDUALS:</text>
<circle class="sz" cx="581" cy="1271.5" r="5.5"/><text class="szt" x="581" y="1271.5" font-size="10">1</text>
<circle class="sz" cx="602" cy="1269.5" r="7.5"/><text class="szt" x="602" y="1269.5" font-size="13">2</text>
<circle class="sz" cx="627" cy="1267" r="10"/><text class="szt" x="627" y="1267" font-size="15">3</text>
<circle class="sz" cx="655" cy="1265.7" r="11.3"/><text class="szt" x="655" y="1265.7" font-size="15">4</text>
<circle class="sz" cx="686" cy="1264.2" r="12.8"/><text class="szt" x="686" y="1264.2" font-size="15">5</text>
<circle class="sz" cx="719" cy="1262.8" r="14.2"/><text class="szt" x="719" y="1262.8" font-size="15">6</text>
<circle class="sz" cx="755" cy="1262" r="15"/><text class="szt" x="755" y="1262" font-size="15">7</text>
<circle class="sz" cx="793" cy="1261.5" r="15.5"/><text class="szt" x="793" y="1261.5" font-size="15">8</text>
<circle class="sz" cx="833" cy="1260.5" r="16.5"/><text class="szt" x="833" y="1260.5" font-size="15">9</text>
</g>
</svg>
